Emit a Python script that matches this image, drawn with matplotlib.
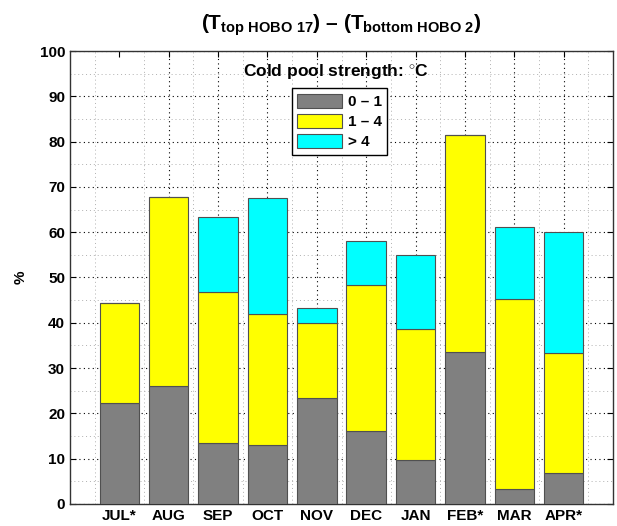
import numpy as np
import matplotlib
matplotlib.use("Agg")
import matplotlib.pyplot as plt
from matplotlib.ticker import MultipleLocator

# --- data ---
months = ["JUL*", "AUG", "SEP", "OCT", "NOV", "DEC", "JAN", "FEB*", "MAR", "APR*"]
weak = [22.3, 26.0, 13.5, 13.0, 23.4, 16.1, 9.7, 33.5, 3.3, 6.8]        # 0 - 1
medium = [22.1, 41.8, 33.3, 28.9, 16.6, 32.2, 28.9, 48.0, 42.0, 26.6]   # 1 - 4
strong = [0.0, 0.0, 16.6, 25.6, 3.3, 9.8, 16.4, 0.0, 15.9, 26.6]        # > 4
labels = ["0 \u2013 1", "1 \u2013 4", "> 4"]
colors = ["#808080", "#ffff00", "#00ffff"]

plt.rcParams.update({
    "font.family": "Liberation Sans",
    "font.weight": "bold",
    "font.size": 11,
    "mathtext.fontset": "custom",
    "mathtext.rm": "Liberation Sans:bold",
    "mathtext.bf": "Liberation Sans:bold",
    "mathtext.it": "Liberation Sans:bold",
})

fig = plt.figure(figsize=(6.17, 5.26), dpi=100)
ax = fig.add_axes([0.1135, 0.042, 0.88, 0.861])

x = np.arange(1, len(months) + 1)
bottom = np.zeros(len(months))
handles = []
for vals, c, lab in zip([weak, medium, strong], colors, labels):
    b = ax.bar(x, vals, width=0.8, bottom=bottom, color=c, edgecolor="#505050",
               linewidth=0.8, label=lab, zorder=3)
    handles.append(b)
    bottom += np.array(vals)

ax.set_xlim(0, 11)
ax.set_ylim(0, 100)
ax.set_xticks(x)
ax.set_xticklabels(months, fontsize=11, fontweight="bold")
ax.xaxis.set_minor_locator(MultipleLocator(0.5))
ax.yaxis.set_major_locator(MultipleLocator(10))
ax.yaxis.set_minor_locator(MultipleLocator(5))
ax.tick_params(which="both", direction="in", top=True, right=True, labelsize=11)
ax.tick_params(which="major", length=4, width=0.8)
ax.tick_params(which="minor", length=0)

# dotted MATLAB-style grid, lighter for the minor one
ax.grid(which="major", color="black", linestyle=(0, (1, 3)), linewidth=0.8, zorder=0)
ax.grid(which="minor", color="#b0b0b0", linestyle=(0, (1, 3)), linewidth=0.7, zorder=0)
ax.xaxis.get_gridlines()[0].set_visible(False)
ax.set_axisbelow(True)
for s in ax.spines.values():
    s.set_linewidth(1.0)
    s.set_color("#333333")

ax.set_ylabel("%", fontsize=11, fontweight="bold")
ax.yaxis.set_label_coords(-0.079, 0.5)
ax.set_title("(T$_{\\mathbf{top\\ HOBO\\ 17}}$) \u2013 (T$_{\\mathbf{bottom\\ HOBO\\ 2}}$)",
             fontsize=15, fontweight="bold", pad=15.5)

ax.text(0.49, 0.955, r"Cold pool strength: $^{\circ}$C", transform=ax.transAxes,
        ha="center", va="center", fontsize=12.5, fontweight="bold")

leg = ax.legend(handles=handles, loc="upper left", bbox_to_anchor=(0.409, 0.918),
                borderaxespad=0, fancybox=False, framealpha=1, edgecolor="black",
                handlelength=2.9, handleheight=1.1, labelspacing=0.3,
                handletextpad=0.4, borderpad=0.35, fontsize=11)
leg.get_frame().set_linewidth(1.0)
leg.set_zorder(5)

fig.savefig("out.png", dpi=100)
